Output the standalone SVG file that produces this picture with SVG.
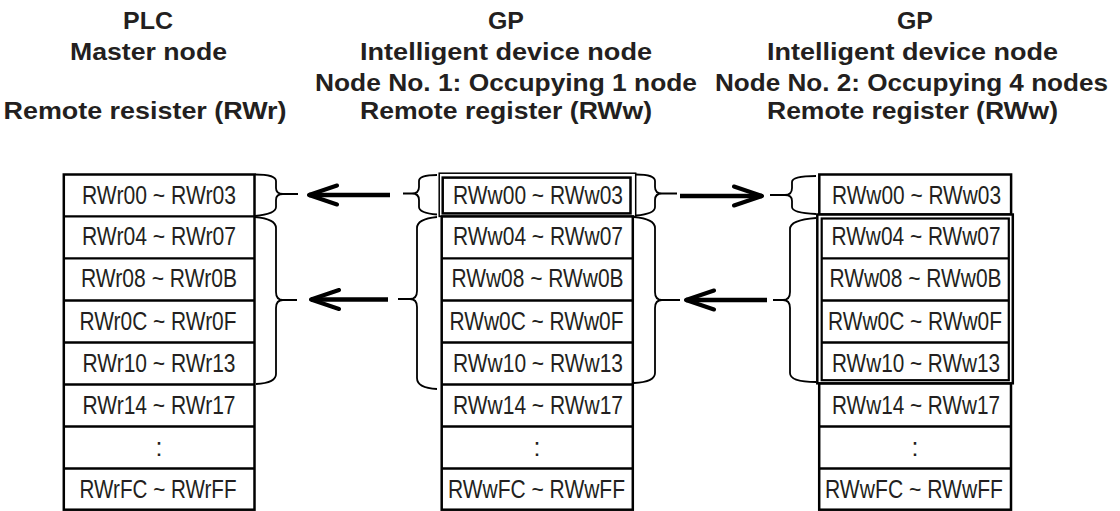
<svg xmlns="http://www.w3.org/2000/svg" width="1120" height="511" viewBox="0 0 1120 511">
<style>
.hd{font-family:"Liberation Sans",Arial,sans-serif;font-weight:bold;font-size:24px;fill:#231f20;text-anchor:middle}
.cell{font-family:"Liberation Sans",Arial,sans-serif;font-size:25px;fill:#231f20;text-anchor:middle}
.box{fill:#fff;stroke:#000;stroke-width:2.5}
.sep{stroke:#000;stroke-width:2.3}
.thin{fill:none;stroke:#000;stroke-width:1.5}
.brace{fill:none;stroke:#000;stroke-width:1.8;stroke-linejoin:round}
.arr{stroke:#000;stroke-width:4.5;fill:none}
</style>
<defs>
<marker id="chev" viewBox="0 0 34 24" refX="31" refY="12" markerWidth="34" markerHeight="24" markerUnits="userSpaceOnUse" orient="auto">
<path d="M3,2.5 L31,12 L3,21.5" fill="none" stroke="#000" stroke-width="4" stroke-linecap="round" stroke-linejoin="round"/>
</marker>
</defs>

<g id="header-plc">
<text class="hd" x="148" y="28.5" textLength="50" lengthAdjust="spacingAndGlyphs">PLC</text>
<text class="hd" x="148.5" y="60" textLength="157" lengthAdjust="spacingAndGlyphs">Master node</text>
<text class="hd" x="145" y="118.5" textLength="283" lengthAdjust="spacingAndGlyphs">Remote resister (RWr)</text>
</g>
<g id="header-gp1">
<text class="hd" x="506" y="28.5" textLength="36" lengthAdjust="spacingAndGlyphs">GP</text>
<text class="hd" x="506" y="60" textLength="292" lengthAdjust="spacingAndGlyphs">Intelligent device node</text>
<text class="hd" x="506" y="90.5" textLength="382" lengthAdjust="spacingAndGlyphs">Node No. 1: Occupying 1 node</text>
<text class="hd" x="506" y="118.5" textLength="292" lengthAdjust="spacingAndGlyphs">Remote register (RWw)</text>
</g>
<g id="header-gp2">
<text class="hd" x="915" y="28.5" textLength="36" lengthAdjust="spacingAndGlyphs">GP</text>
<text class="hd" x="912.5" y="60" textLength="291" lengthAdjust="spacingAndGlyphs">Intelligent device node</text>
<text class="hd" x="911.5" y="90.5" textLength="393" lengthAdjust="spacingAndGlyphs">Node No. 2: Occupying 4 nodes</text>
<text class="hd" x="912.5" y="118.5" textLength="291" lengthAdjust="spacingAndGlyphs">Remote register (RWw)</text>
</g>

<g id="plc-table">
<rect class="box" x="63.8" y="174.5" width="190.7" height="335.2"/>
<line class="sep" x1="63.8" y1="216.4" x2="254.5" y2="216.4"/>
<line class="sep" x1="63.8" y1="258.3" x2="254.5" y2="258.3"/>
<line class="sep" x1="63.8" y1="300.5" x2="254.5" y2="300.5"/>
<line class="sep" x1="63.8" y1="342.5" x2="254.5" y2="342.5"/>
<line class="sep" x1="63.8" y1="384.5" x2="254.5" y2="384.5"/>
<line class="sep" x1="63.8" y1="426.5" x2="254.5" y2="426.5"/>
<line class="sep" x1="63.8" y1="468.5" x2="254.5" y2="468.5"/>
<text class="cell" x="159" y="203.5" textLength="154" lengthAdjust="spacingAndGlyphs">RWr00 ~ RWr03</text>
<text class="cell" x="159" y="245.4" textLength="154" lengthAdjust="spacingAndGlyphs">RWr04 ~ RWr07</text>
<text class="cell" x="159" y="287.3" textLength="156" lengthAdjust="spacingAndGlyphs">RWr08 ~ RWr0B</text>
<text class="cell" x="158" y="329.5" textLength="157" lengthAdjust="spacingAndGlyphs">RWr0C ~ RWr0F</text>
<text class="cell" x="159" y="371.5" textLength="153" lengthAdjust="spacingAndGlyphs">RWr10 ~ RWr13</text>
<text class="cell" x="159" y="413.5" textLength="153" lengthAdjust="spacingAndGlyphs">RWr14 ~ RWr17</text>
<text class="cell" x="159" y="455.5">:</text>
<text class="cell" x="158" y="497.5" textLength="157" lengthAdjust="spacingAndGlyphs">RWrFC ~ RWrFF</text>
</g>

<g id="gp1-table">
<rect class="box" x="441.7" y="216.4" width="191.1" height="293.3"/>
<rect class="thin" x="439.2" y="173.2" width="196.5" height="43.2"/>
<rect class="box" x="442.7" y="177.6" width="187.8" height="35.8"/>
<line class="sep" x1="441.7" y1="258.3" x2="632.8" y2="258.3"/>
<line class="sep" x1="441.7" y1="300.5" x2="632.8" y2="300.5"/>
<line class="sep" x1="441.7" y1="342.5" x2="632.8" y2="342.5"/>
<line class="sep" x1="441.7" y1="384.5" x2="632.8" y2="384.5"/>
<line class="sep" x1="441.7" y1="426.5" x2="632.8" y2="426.5"/>
<line class="sep" x1="441.7" y1="468.5" x2="632.8" y2="468.5"/>
<text class="cell" x="538" y="203.5" textLength="170" lengthAdjust="spacingAndGlyphs">RWw00 ~ RWw03</text>
<text class="cell" x="538" y="245.4" textLength="170" lengthAdjust="spacingAndGlyphs">RWw04 ~ RWw07</text>
<text class="cell" x="537.5" y="287.3" textLength="172" lengthAdjust="spacingAndGlyphs">RWw08 ~ RWw0B</text>
<text class="cell" x="536.5" y="329.5" textLength="174" lengthAdjust="spacingAndGlyphs">RWw0C ~ RWw0F</text>
<text class="cell" x="538" y="371.5" textLength="170" lengthAdjust="spacingAndGlyphs">RWw10 ~ RWw13</text>
<text class="cell" x="538" y="413.5" textLength="170" lengthAdjust="spacingAndGlyphs">RWw14 ~ RWw17</text>
<text class="cell" x="537" y="455.5">:</text>
<text class="cell" x="536.5" y="497.5" textLength="177" lengthAdjust="spacingAndGlyphs">RWwFC ~ RWwFF</text>
</g>

<g id="gp2-table">
<rect class="box" x="819.3" y="174.5" width="191.8" height="40"/>
<rect class="box" x="819.2" y="383.3" width="191.8" height="126.4"/>
<rect class="box" x="817.3" y="214.5" width="195.5" height="168.8"/>
<rect class="box" x="821.7" y="218.5" width="187.1" height="161.7" style="stroke-width:2.2"/>
<line class="sep" x1="821.7" y1="258.3" x2="1008.8" y2="258.3"/>
<line class="sep" x1="821.7" y1="300.5" x2="1008.8" y2="300.5"/>
<line class="sep" x1="821.7" y1="342.5" x2="1008.8" y2="342.5"/>
<line class="sep" x1="819.2" y1="426.5" x2="1011" y2="426.5"/>
<line class="sep" x1="819.2" y1="468.5" x2="1011" y2="468.5"/>
<text class="cell" x="916.5" y="203.5" textLength="169" lengthAdjust="spacingAndGlyphs">RWw00 ~ RWw03</text>
<text class="cell" x="916" y="245.4" textLength="169" lengthAdjust="spacingAndGlyphs">RWw04 ~ RWw07</text>
<text class="cell" x="915.5" y="287.3" textLength="172" lengthAdjust="spacingAndGlyphs">RWw08 ~ RWw0B</text>
<text class="cell" x="915" y="329.5" textLength="174" lengthAdjust="spacingAndGlyphs">RWw0C ~ RWw0F</text>
<text class="cell" x="916" y="371.5" textLength="168" lengthAdjust="spacingAndGlyphs">RWw10 ~ RWw13</text>
<text class="cell" x="916" y="413.5" textLength="168" lengthAdjust="spacingAndGlyphs">RWw14 ~ RWw17</text>
<text class="cell" x="915" y="455.5">:</text>
<text class="cell" x="914" y="497.5" textLength="178" lengthAdjust="spacingAndGlyphs">RWwFC ~ RWwFF</text>
</g>

<g id="connectors">
<path class="brace" d="M255,174.5 Q276,174.5 276,181 L276,188 Q276,194 283,194 L298,194 M283,194 Q276,194 276,200 L276,207 Q276,214 255,216"/>
<path class="brace" d="M255,217 Q276,219 276,228 L276,292 Q276,300 283,300 L297,300 M283,300 Q276,300 276,308 L276,374 Q276,383 256,384"/>
<path class="brace" d="M437,175 Q419,175 419,181 L419,187 Q419,193.5 412,193.5 L403,193.5 M412,193.5 Q419,193.5 419,200 L419,207 Q419,213 437,214.5"/>
<path class="brace" d="M437,217 Q417,219 417,228 L417,291 Q417,299 410,299 L398,299 M410,299 Q417,299 417,307 L417,378 Q417,388 437,389"/>
<path class="brace" d="M636,174.5 Q655,174.5 655,181 L655,187 Q655,193.5 662,193.5 L677,193.5 M662,193.5 Q655,193.5 655,200 L655,207 Q655,214 636,215.5"/>
<path class="brace" d="M634,217 Q655,219 655,228 L655,292 Q655,300 662,300 L680,300 M662,300 Q655,300 655,308 L655,373 Q655,382 634,383"/>
<path class="brace" d="M816,176 Q792,176 792,182 L792,188 Q792,195 785,195 L770,195 M785,195 Q792,195 792,201 L792,207 Q792,213 816,214"/>
<path class="brace" d="M816,218 Q790,220 790,229 L790,292 Q790,300 783,300 L773,300 M783,300 Q790,300 790,308 L790,373 Q790,382 816,382"/>
<line class="arr" x1="390" y1="195" x2="309" y2="195" marker-end="url(#chev)"/>
<line class="arr" x1="388" y1="299.5" x2="311" y2="299.5" marker-end="url(#chev)"/>
<line class="arr" x1="680" y1="196" x2="762" y2="196" marker-end="url(#chev)"/>
<line class="arr" x1="767" y1="300" x2="686" y2="300" marker-end="url(#chev)"/>
</g>
</svg>
